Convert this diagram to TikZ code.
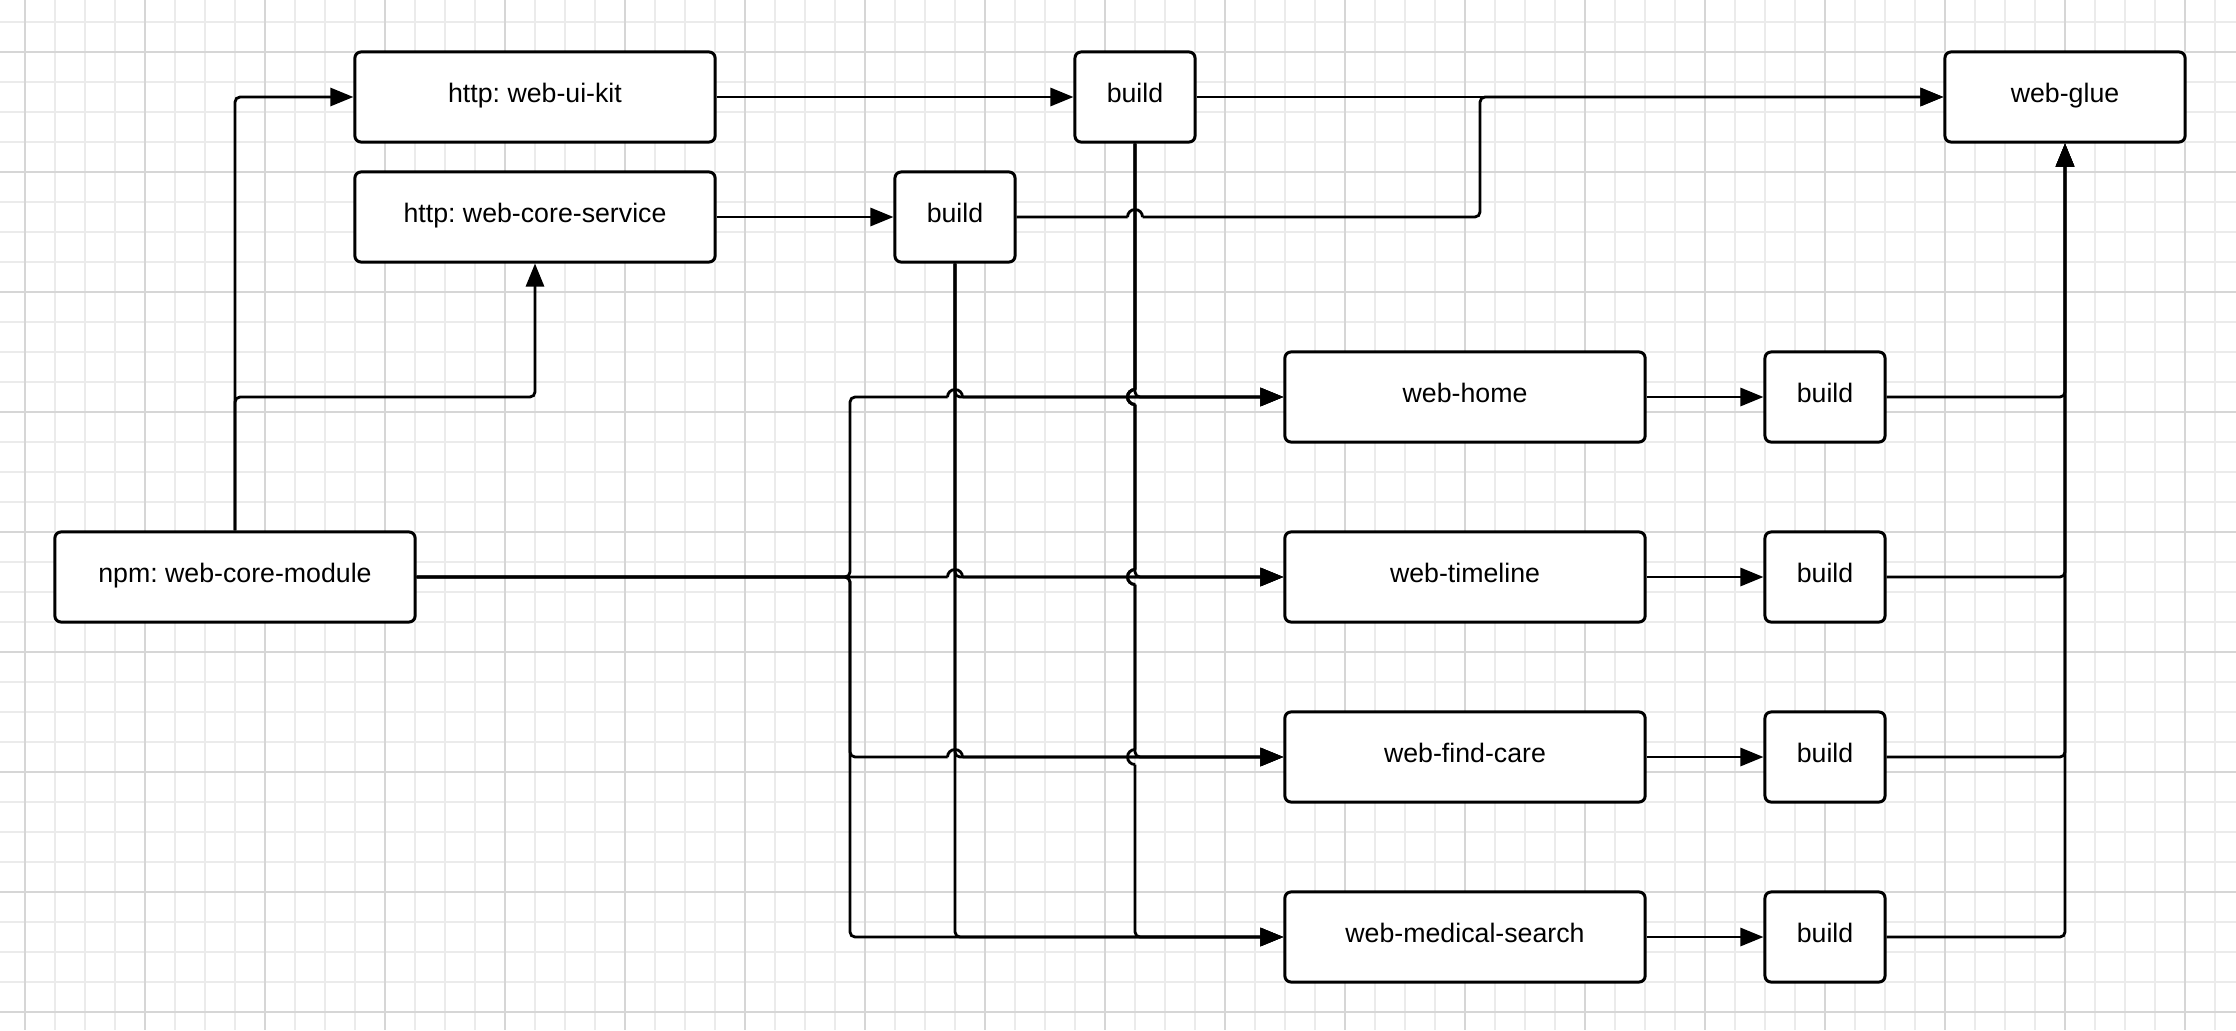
\documentclass[tikz,border=0pt]{standalone}
\usepackage{fontspec}
\setmainfont{Liberation Sans}
\usetikzlibrary{arrows.meta}
\frenchspacing

% line hops: a bump over a vertical line, a bulge round a horizontal one
\newcommand{\hopx}[2]{-- (#1-7.5,#2) (#1-7.5,#2) arc[start angle=180, end angle=0, radius=0.075cm] (#1+7.5,#2)}
\newcommand{\hopy}[2]{-- (#1,#2-7.5) (#1,#2-7.5) arc[start angle=90, end angle=270, radius=0.075cm] (#1,#2+7.5)}

\tikzset{
  box/.style={draw, line width=0.85pt, rounded corners=0.06cm, fill=white, minimum height=0.9cm,
    inner sep=0pt, text height=5.7pt, text depth=2.85pt, font=\fontsize{7.6pt}{9pt}\selectfont},
  repobox/.style={box, minimum width=3.6cm},
  buildbox/.style={box, minimum width=1.2cm},
  gluebox/.style={box, minimum width=2.4cm},
  conn/.style={line width=0.8pt, rounded corners=0.05cm, -{Triangle[length=0.23cm, width=0.18cm]}},
  gridminor/.style={line width=0.4pt, black!8},
  gridmajor/.style={line width=0.4pt, black!16},
}

\begin{document}
\begin{tikzpicture}[x=0.01cm, y=-0.01cm]
  \useasboundingbox (0,0) rectangle (2236,1030);
  % grid
  \foreach \gx in {25,55,...,2215} \draw[gridminor] (\gx,0) -- (\gx,1030);
  \foreach \gy in {22,52,...,1012} \draw[gridminor] (0,\gy) -- (2236,\gy);
  \foreach \gx in {25,145,...,2185} \draw[gridmajor] (\gx,0) -- (\gx,1030);
  \foreach \gy in {52,172,...,1012} \draw[gridmajor] (0,\gy) -- (2236,\gy);

  % libraries and their builds
  \node[repobox] (npm) at (235,577) {npm: web-core-module};
  \node[repobox] (uikit) at (535,97) {http: web-ui-kit};
  \node[repobox] (coresvc) at (535,217) {http: web-core-service};
  \node[buildbox] (build1) at (1135,97) {build};
  \node[buildbox] (build2) at (955,217) {build};
  \node[gluebox] (glue) at (2065,97) {web-glue};
  \coordinate (bus) at (850,577);

  \draw[conn] (npm.north) |- (uikit.west);
  \draw[conn] (npm.north) -- (npm.north |- 0,397) -| (coresvc.south);
  \draw[conn] (uikit.east) -- (build1.west);
  \draw[conn] (coresvc.east) -- (build2.west);
  \draw[conn] (build1.east) -- (glue.west);
  \draw[conn] (build2.east) \hopx{1135}{217} -- (1480,217) |- (glue.west);

  % apps
  \foreach \app/\lbl/\y in {home/web-home/397, timeline/web-timeline/577,
      findcare/web-find-care/757, medsearch/web-medical-search/937} {
    \node[repobox] (\app) at (1465,\y) {\lbl};
    \node[buildbox] (b\app) at (1825,\y) {build};
    \draw[conn] (\app.east) -- (b\app.west);
    \draw[conn] (b\app.east) -| (glue.south);
    \draw[conn] (build2.south) |- (\app.west);
  }

  \draw[conn] (npm.east) -- (bus) -- (bus |- home.west) \hopx{955}{397} -- (home.west);
  \draw[conn] (npm.east) \hopx{955}{577} -- (timeline.west);
  \draw[conn] (npm.east) -- (bus) -- (bus |- findcare.west) \hopx{955}{757} -- (findcare.west);
  \draw[conn] (npm.east) -- (bus) |- (medsearch.west);

  \draw[conn] (build1.south) |- (home.west);
  \draw[conn] (build1.south) \hopy{1135}{397} |- (timeline.west);
  \draw[conn] (build1.south) \hopy{1135}{397} \hopy{1135}{577} |- (findcare.west);
  \draw[conn] (build1.south) \hopy{1135}{397} \hopy{1135}{577} \hopy{1135}{757} |- (medsearch.west);
\end{tikzpicture}
\end{document}
